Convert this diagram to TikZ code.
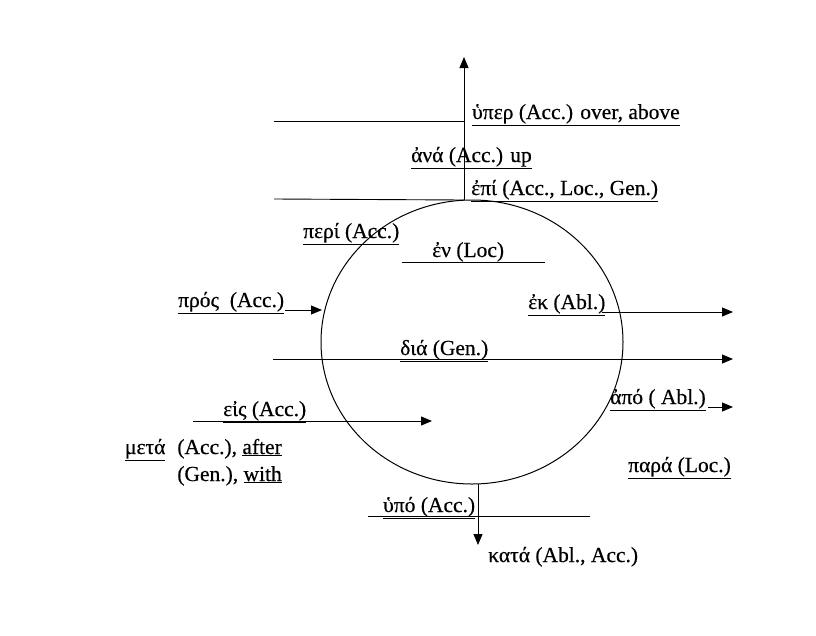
\documentclass[tikz,border=0pt]{standalone}
\usepackage{fontspec}
\setmainfont{Liberation Serif}[FakeBold=0.5]
\usetikzlibrary{arrows.meta,shapes.geometric}
\begin{document}
\begin{tikzpicture}[x=1pt,y=-1pt,
  lbl/.style={font=\fontsize{21.5}{24}\selectfont, inner sep=0pt, anchor=base west},
  ln/.style={line width=0.9pt},
  arr/.style={line width=0.9pt, -{Triangle[length=11pt,width=9pt]}}]
\useasboundingbox[fill=white] (0,0) rectangle (816,635);
\node[draw, ellipse, line width=1pt, minimum width=302pt, minimum height=284pt, inner sep=0pt] (circ) at (472,342) {};
% labels
\node[lbl] (hyper) at (472,119) {\underline{ὑπερ (Acc.) over, above}};
\node[lbl] (ana) at (411,162) {\underline{ἀνά (Acc.) up}};
\node[lbl] (epi) at (471,195) {\underline{ἐπί (Acc., Loc., Gen.)}};
\node[lbl] (peri) at (303,238) {\underline{περί (Acc.)}};
\node[lbl] (en) at (432,257) {ἐν (Loc)};
\node[lbl] (pros) at (178,307) {\underline{πρός\ \ (Acc.)}};
\node[lbl] (ek) at (528,309) {\underline{ἐκ (Abl.)}};
\node[lbl] (dia) at (400,355) {\underline{διά (Gen.)}};
\node[lbl] (apo) at (610,404) {\underline{ἀπό ( Abl.)}};
\node[lbl] (para) at (628,472) {\underline{παρά (Loc.)}};
\node[lbl] (eis) at (223,416) {\underline{εἰς (Acc.)}};
\node[lbl, anchor=base east] (meta1) at (282,454) {\underline{μετά}\hspace{12pt}(Acc.), \underline{after}};
\node[lbl, anchor=base east] (meta2) at (282,481) {(Gen.), \underline{with}};
\node[lbl] (hypo) at (383,512) {\underline{ὑπό (Acc.)}};
\node[lbl] (kata) at (488,562) {κατά (Abl., Acc.)};
% coordinates
\coordinate (ctop) at (464,200);
\coordinate (toptip) at (464,57);
\coordinate (cbot) at (478,484);
\coordinate (bottip) at (478,545);
\coordinate (hyL) at (274,121);
\coordinate (hyR) at (464,121);
\coordinate (epiL) at (274,199);
\coordinate (enL) at (402,262);
\coordinate (enR) at (545,262);
\coordinate (prosS) at (285,310);
\coordinate (prosT) at (322,310);
\coordinate (ekS) at (602,312);
\coordinate (ekT) at (733,312);
\coordinate (diaS) at (273,359);
\coordinate (diaT) at (733,359);
\coordinate (apoS) at (708,407);
\coordinate (apoT) at (733,407);
\coordinate (eisS) at (193,421);
\coordinate (eisT) at (432,421);
\coordinate (hypoL) at (368,516);
\coordinate (hypoR) at (590,516);
% connectors
\draw[arr] (ctop) -- (toptip);
\draw[arr] (cbot) -- (bottip);
\draw[ln] (hyL) -- (hyR);
\draw[ln] (epiL) -- (ctop);
\draw[ln] (enL) -- (enR);
\draw[arr] (prosS) -- (prosT);
\draw[arr] (ekS) -- (ekT);
\draw[arr] (diaS) -- (diaT);
\draw[arr] (apoS) -- (apoT);
\draw[arr] (eisS) -- (eisT);
\draw[ln] (hypoL) -- (hypoR);
\end{tikzpicture}
\end{document}
